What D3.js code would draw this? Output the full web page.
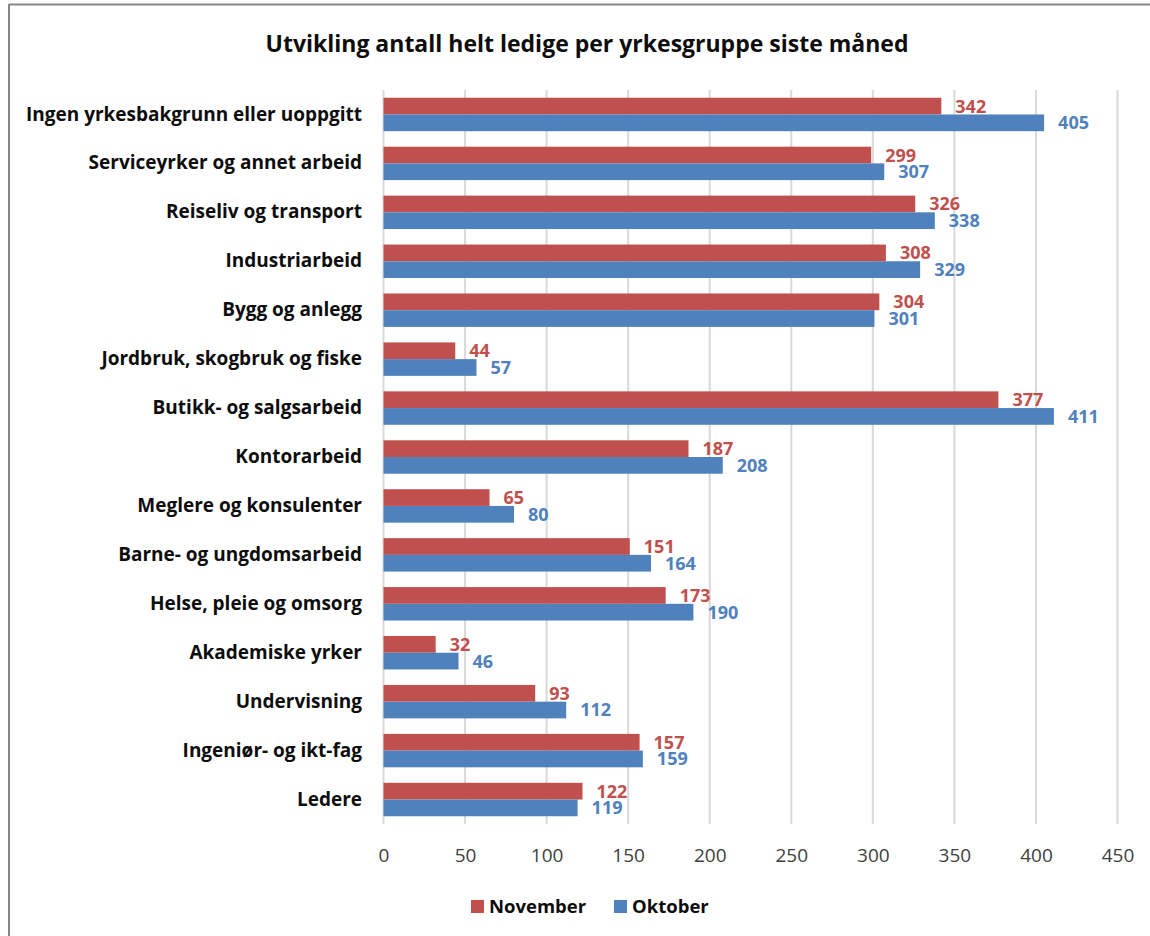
<!DOCTYPE html>
<html><head><meta charset="utf-8">
<script src="https://cdn.jsdelivr.net/npm/d3@7"></script>
<style>
body{margin:0;background:#fff;}
svg{display:block;}
</style></head>
<body>
<svg id="c" width="1150" height="936"></svg>
<script>
const categories = [
  "Ingen yrkesbakgrunn eller uoppgitt",
  "Serviceyrker og annet arbeid",
  "Reiseliv og transport",
  "Industriarbeid",
  "Bygg og anlegg",
  "Jordbruk, skogbruk og fiske",
  "Butikk- og salgsarbeid",
  "Kontorarbeid",
  "Meglere og konsulenter",
  "Barne- og ungdomsarbeid",
  "Helse, pleie og omsorg",
  "Akademiske yrker",
  "Undervisning",
  "Ingeniør- og ikt-fag",
  "Ledere"
];
const november = [342,299,326,308,304,44,377,187,65,151,173,32,93,157,122];
const oktober  = [405,307,338,329,301,57,411,208,80,164,190,46,112,159,119];
const seriesNames = ["November","Oktober"];
const xTicks = [0,50,100,150,200,250,300,350,400,450];
const title = "Utvikling antall helt ledige per yrkesgruppe siste måned";

const colors = {November:"#C0504D", Oktober:"#4F81BD"};
const FONT = "'Open Sans', Lato, sans-serif";

const svg = d3.select("#c");

// border (frame, partially visible)
svg.append("line").attr("x1",9).attr("x2",1150).attr("y1",4.5).attr("y2",4.5)
  .attr("stroke","#868686").attr("stroke-width",2);
svg.append("line").attr("x1",9).attr("x2",9).attr("y1",4).attr("y2",936)
  .attr("stroke","#868686").attr("stroke-width",2);

const x = d3.scaleLinear().domain([0,450]).range([383.5,1117.5]);
const y = d3.scaleBand().domain(categories).range([90,824]).paddingInner(0.317).paddingOuter(0.1585);
const ys = d3.scaleBand().domain(seriesNames).range([0,y.bandwidth()]);

// gridlines
svg.append("g").selectAll("line").data(xTicks).join("line")
  .attr("x1",d=>x(d)).attr("x2",d=>x(d)).attr("y1",90).attr("y2",824)
  .attr("stroke","#D9D9D9").attr("stroke-width",2);

// x axis tick labels
const xAxis = d3.axisBottom(x).tickValues(xTicks).tickSize(0).tickPadding(0);
const gx = svg.append("g").attr("transform","translate(0,855)").call(xAxis);
gx.select(".domain").remove();
gx.selectAll("text").attr("font-family",FONT).attr("font-size",19).attr("fill","#404040").attr("dy","0.36em");

// y axis labels
const yAxis = d3.axisLeft(y).tickSize(0).tickPadding(0);
const gy = svg.append("g").attr("transform","translate(362,0)").call(yAxis);
gy.select(".domain").remove();
gy.selectAll("text").attr("font-family",FONT).attr("font-size",19).attr("font-weight","bold").attr("fill","#0d0d0d");

const rows = categories.map((c,i)=>({cat:c, vals:[{s:"November",v:november[i]},{s:"Oktober",v:oktober[i]}]}));

const g = svg.append("g");
const rg = g.selectAll("g").data(rows).join("g").attr("transform",d=>`translate(0,${y(d.cat)})`);
rg.selectAll("rect").data(d=>d.vals).join("rect")
  .attr("x",x(0)).attr("y",d=>ys(d.s)).attr("width",d=>x(d.v)-x(0)).attr("height",ys.bandwidth())
  .attr("fill",d=>colors[d.s]);
rg.selectAll("text").data(d=>d.vals).join("text")
  .attr("x",d=>x(d.v)+14).attr("y",d=>ys(d.s)+ys.bandwidth()/2).attr("dy","0.36em")
  .attr("font-family",FONT).attr("font-size",18).attr("font-weight","bold")
  .attr("fill",d=>colors[d.s]).text(d=>d.v);

// title
svg.append("text").attr("x",587).attr("y",52).attr("text-anchor","middle")
  .attr("font-family",FONT).attr("font-size",23).attr("font-weight","bold").attr("fill","#0d0d0d")
  .text(title);

// legend
const leg = svg.append("g");
const legX = [471, 614];
seriesNames.forEach((s,i)=>{
  leg.append("rect").attr("x",legX[i]).attr("y",900).attr("width",13).attr("height",13).attr("fill",colors[s]);
  leg.append("text").attr("x",legX[i]+18).attr("y",906.5).attr("dy","0.36em")
    .attr("font-family",FONT).attr("font-size",18.5).attr("font-weight","bold").attr("fill","#0d0d0d").text(s);
});
</script>
</body></html>
